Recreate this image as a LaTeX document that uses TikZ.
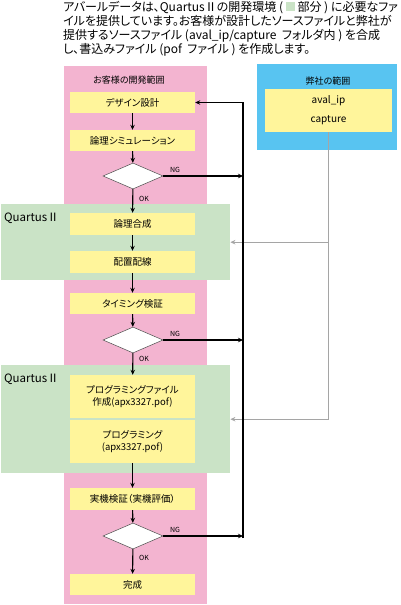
\documentclass[tikz,border=0pt]{standalone}
\usepackage{fontspec}
\setmainfont{Noto Sans CJK JP}[RawFeature=+palt]
\usetikzlibrary{shapes.geometric,arrows.meta}
\definecolor{devpink}{HTML}{F3B4D0}
\definecolor{qgreen}{HTML}{CAE3C6}
\definecolor{ourblue}{HTML}{58C4F1}
\definecolor{boxyellow}{HTML}{FFF59B}
\definecolor{feedgray}{HTML}{A5A5A5}

\begin{document}
\begin{tikzpicture}[x=1pt,y=-1pt,
  area/.style={rectangle,inner sep=0pt,anchor=north west},
  stepbox/.style={rectangle,fill=boxyellow,minimum width=125pt,inner sep=0pt,align=center,font=\fontsize{9.5}{12}\selectfont},
  decide/.style={diamond,draw=black!70,fill=white,line width=0.5pt,minimum width=60pt,minimum height=26pt,inner sep=0pt},
  flow/.style={line width=1.1pt,-{Stealth[length=5pt,width=4.5pt]}},
  feed/.style={feedgray,line width=1.1pt,-{Stealth[length=5pt,width=4.5pt]}},
  tag/.style={font=\fontsize{7}{7}\selectfont,inner sep=0pt}]
			\useasboundingbox (0,0) rectangle (400,605);
			\node[anchor=north west,inner sep=0pt,align=left,font=\fontsize{12}{14}\selectfont] (intro) at (63,1)
				{アバールデータは、QuartusⅡの開発環境 ( \textcolor{qgreen}{\rule{9pt}{9pt}} 部分 ) に必要なファ\\
				 イルを提供しています。お客様が設計したソースファイルと弊社が\\
				 提供するソースファイル (aval\_ip/capture\ \ フォルダ内 ) を合成\\
				 し、書込みファイル (pof\ \ ファイル ) を作成します。};
			\node[area,fill=devpink,minimum width=143pt,minimum height=538pt] (dev) at (64,66) {};
			\node[area,fill=qgreen,minimum width=229pt,minimum height=76pt] (qt1) at (1,204) {};
			\node[area,fill=qgreen,minimum width=229pt,minimum height=108pt] (qt2) at (1,365) {};
			\node[area,fill=ourblue,minimum width=140pt,minimum height=86pt] (ours) at (257,64) {};
			\node[font=\fontsize{9}{10}\selectfont] (devlabel) at (129,80) {お客様の開発範囲};
			\node[font=\fontsize{9}{10}\selectfont] (ourlabel) at (328,81) {弊社の範囲};
			\node[anchor=west,inner sep=0pt,font=\fontsize{11.5}{12}\selectfont] (qt1label) at (4,218) {QuartusⅡ};
			\node[anchor=west,inner sep=0pt,font=\fontsize{11.5}{12}\selectfont] (qt2label) at (4,379) {QuartusⅡ};
			\node[stepbox,minimum width=127pt,minimum height=43pt,font=\fontsize{10}{19}\selectfont] (ip) at (328.5,110.5) {aval\_ip\\capture};
			\node[stepbox,minimum height=21pt] (design) at (132.5,102.5) {デザイン設計};
			\node[stepbox,minimum height=21pt] (sim) at (132.5,140.5) {論理シミュレーション};
			\node[decide] (chk1) at (133,176) {};
			\node[stepbox,minimum height=22pt] (synth) at (132.5,224) {論理合成};
			\node[stepbox,minimum height=22pt] (pnr) at (132.5,262) {配置配線};
			\node[stepbox,minimum height=21pt] (timing) at (132.5,303.5) {タイミング検証};
			\node[decide] (chk2) at (133,340) {};
			\node[stepbox,minimum height=43pt] (progfile) at (132.5,396.5) {プログラミングファイル\\作成(apx3327.pof)};
			\node[stepbox,minimum height=43pt] (prog) at (132.5,441.5) {プログラミング\\(apx3327.pof)};
			\node[stepbox,minimum height=22pt] (hwtest) at (132.5,499) {実機検証（実機評価）};
			\node[decide] (chk3) at (133,536) {};
			\node[stepbox,minimum height=21pt] (done) at (132.5,584.5) {完成};
			\node[tag] (ng1) at (175,170) {NG};
			\node[tag] (ng2) at (175,334) {NG};
			\node[tag] (ng3) at (175,530) {NG};
			\node[tag] (ok1) at (144,199) {OK};
			\node[tag] (ok2) at (144,359) {OK};
			\node[tag] (ok3) at (144,558) {OK};
			\coordinate (back) at (243,538);
			\draw[feed] (ip.south) |- (qt2.east);
			\draw[feed] (ip.south |- qt1.east) -- (qt1.east);
			\draw[flow] (design) -- (sim);
			\draw[flow] (sim) -- (chk1);
			\draw[flow] (chk1) -- (synth);
			\draw[flow] (synth) -- (pnr);
			\draw[flow] (pnr) -- (timing);
			\draw[flow] (timing) -- (chk2);
			\draw[flow] (chk2) -- (progfile);
			\draw[flow] (prog) -- (hwtest);
			\draw[flow] (hwtest) -- (chk3);
			\draw[flow] (chk3) -- (done);
			\draw[flow] (chk1.east) -- (chk1.east -| back);
			\draw[flow] (chk2.east) -- (chk2.east -| back);
			\draw[flow] (chk3.east) -- (chk3.east -| back);
			\draw[flow] (back) |- (design.east);
		\end{tikzpicture}
\end{document}
